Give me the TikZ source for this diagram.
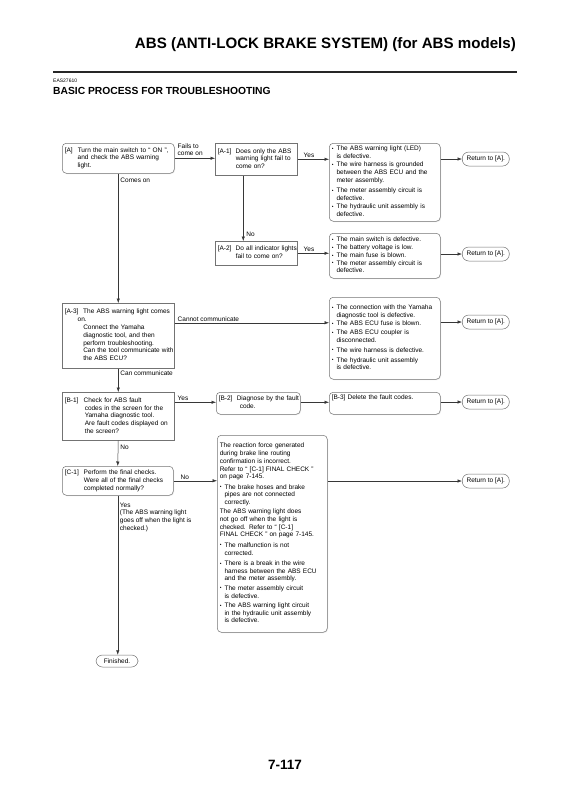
\documentclass[tikz,border=0pt]{standalone}
\usepackage{fontspec}
\setmainfont{Liberation Sans}
\usetikzlibrary{arrows.meta, positioning, shadows, calc}
\definecolor{framegray}{RGB}{115,115,115}
\definecolor{linegray}{RGB}{55,55,55}
\newcommand{\boxfont}{\fontsize{6.5}{7.8}\selectfont}
\newcommand{\boxlines}[1]{\begin{tabular}{@{}l@{}}#1\end{tabular}}
\newcommand{\lbl}[2][19pt]{\makebox[#1][l]{#2}}
\newcommand{\stepind}[1][19pt]{\hspace*{#1}}
\newcommand{\bul}{\makebox[4.8pt][l]{\raisebox{0.3pt}{\scalebox{0.75}{•}}}}
\newcommand{\hgap}{\hspace*{4.8pt}}

\begin{document}
\begin{tikzpicture}[x=1pt, y=-1pt,
    node distance=4pt,
    boxbase/.style={rectangle, draw=framegray, line width=0.5pt, fill=white, inner xsep=2.5pt, inner ysep=2pt, align=left, font=\boxfont, anchor=north west, drop shadow={shadow xshift=0.8pt, shadow yshift=-0.8pt, opacity=0.18}},
    stepbox/.style={boxbase},
    roundbox/.style={boxbase, rounded corners=4pt},
    pill/.style={rectangle, rounded corners=6.5pt, draw=framegray, line width=0.5pt, fill=white, minimum width=47pt, minimum height=14pt, inner sep=1pt, font=\boxfont, anchor=west},
    edgetag/.style={font=\boxfont, align=left, inner sep=1pt},
    link/.style={draw=linegray, line width=0.5pt},
    flowarrow/.style={link, -{Latex[length=4.5pt,width=3.4pt]}}
]
\useasboundingbox (0,0) rectangle (570,807);

% page header
\node[anchor=east, font=\fontsize{15.1}{18}\selectfont\bfseries, inner sep=0pt] (title) at (516,45) {ABS (ANTI-LOCK BRAKE SYSTEM) (for ABS models)};
\draw[line width=1.6pt, draw=black!85] (53,72) -- (517,72);
\node[anchor=west, font=\fontsize{5}{6}\selectfont, inner sep=0pt] (code) at (53,81) {EAS27610};
\node[anchor=west, font=\fontsize{10.3}{12}\selectfont\bfseries, inner sep=0pt] (heading) at (53,91) {BASIC PROCESS FOR TROUBLESHOOTING};

% steps
\node[roundbox, text width=107pt, minimum height=30pt] (a) at (62,143) {\boxlines{\lbl[13pt]{[A]}Turn the main switch to “ ON ”,\\ \stepind[13pt]and check the ABS warning\\ \stepind[13pt]light.}};
\node[stepbox, text width=77pt, minimum height=32pt] (a1) at (215,143) {\boxlines{\lbl[18pt]{[A-1]}Does only the ABS\\ \stepind[18pt]warning light fail to\\ \stepind[18pt]come on?}};
\node[stepbox, text width=77pt, minimum height=24pt] (a2) at (215,241) {\boxlines{\lbl[18pt]{[A-2]}Do all indicator lights\\ \stepind[18pt]fail to come on?}};
\node[stepbox, text width=107pt, minimum height=65pt] (a3) at (62,303) {\boxlines{\lbl[18.5pt]{[A-3]}The ABS warning light comes\\ \stepind[13pt]on.\\ \stepind[18.5pt]Connect the Yamaha\\ \stepind[18.5pt]diagnostic tool, and then\\ \stepind[18.5pt]perform troubleshooting.\\ \stepind[18.5pt]Can the tool communicate with\\ \stepind[18.5pt]the ABS ECU?}};
\node[stepbox, text width=107pt, minimum height=48pt] (b1) at (62,392) {\boxlines{\lbl[19pt]{[B-1]}Check for ABS fault\\ \stepind[20pt]codes in the screen for the\\ \stepind[20pt]Yamaha diagnostic tool.\\ \stepind[20pt]Are fault codes displayed on\\ \stepind[20pt]the screen?}};
\node[roundbox, text width=79pt, minimum height=22pt] (b2) at (216,392) {\boxlines{\lbl[18pt]{[B-2]}Diagnose by the fault\\ \stepind[21pt]code.}};
\node[roundbox, text width=106pt, text height=5pt, text depth=13pt] (b3) at (329,392) {[B-3] Delete the fault codes.};
\node[roundbox, text width=106pt, minimum height=29pt] (c1n) at (62,466) {\boxlines{\lbl[19pt]{[C-1]}Perform the final checks.\\ \stepind[19pt]Were all of the final checks\\ \stepind[19pt]completed normally?}};

% causes
\node[roundbox, text width=106pt, minimum height=78pt] (c1) at (329,143) {\boxlines{\bul The ABS warning light (LED)\\ \hgap is defective.\\[0.5pt]
  \bul The wire harness is grounded\\ \hgap between the ABS ECU and the\\ \hgap meter assembly.\\[2.5pt]
  \bul The meter assembly circuit is\\ \hgap defective.\\[0.5pt]
  \bul The hydraulic unit assembly is\\ \hgap defective.}};
\node[roundbox, text width=106pt, minimum height=45pt] (c2) at (329,233) {\boxlines{\bul The main switch is defective.\\
  \bul The battery voltage is low.\\
  \bul The main fuse is blown.\\
  \bul The meter assembly circuit is\\ \hgap defective.}};
\node[roundbox, text width=106pt, minimum height=82pt] (c3) at (329,297) {\boxlines{\bul The connection with the Yamaha\\ \hgap diagnostic tool is defective.\\[0.5pt]
  \bul The ABS ECU fuse is blown.\\[1pt]
  \bul The ABS ECU coupler is\\ \hgap disconnected.\\[2pt]
  \bul The wire harness is defective.\\[2pt]
  \bul The hydraulic unit assembly\\ \hgap is defective.}};
\node[roundbox, text width=105pt, minimum height=197pt] (big) at (217,435) {\boxlines{The reaction force generated\\
  during brake line routing\\
  confirmation is incorrect.\\
  Refer to “ [C-1] FINAL CHECK ”\\
  on page 7-145.\\[2.5pt]
  \bul The brake hoses and brake\\ \hgap pipes are not connected\\ \hgap correctly.\\[1pt]
  The ABS warning light does\\
  not go off when the light is\\
  checked. Refer to “ [C-1]\\
  FINAL CHECK ” on page 7-145.\\[2.5pt]
  \bul The malfunction is not\\ \hgap corrected.\\[2.5pt]
  \bul There is a break in the wire\\ \hgap harness between the ABS ECU\\ \hgap and the meter assembly.\\[1.5pt]
  \bul The meter assembly circuit\\ \hgap is defective.\\[1.5pt]
  \bul The ABS warning light circuit\\ \hgap in the hydraulic unit assembly\\ \hgap is defective.}};

% ends
\node[pill] (r1) at (462,159) {Return to [A].};
\node[pill] (r2) at (462,254) {Return to [A].};
\node[pill] (r3) at (462,322) {Return to [A].};
\node[pill] (r4) at (462,402) {Return to [A].};
\node[pill] (r5) at (462,481) {Return to [A].};
\node[pill, anchor=center, minimum width=42pt, minimum height=12pt] (fin) at (117,661) {Finished.};

% connectors
\coordinate (a1down) at ([xshift=-13pt]a1.south);
\coordinate (a3out) at ([yshift=13pt]a3.east);
\coordinate (b1out) at ([yshift=14pt]b1.east);
\draw[flowarrow] (a.east) -- (a.east -| a1.west);
\draw[flowarrow] (a1.east) -- (a1.east -| c1.west);
\draw[flowarrow] (c1.east |- r1.west) -- (r1.west);
\draw[flowarrow] (a1down) -- (a1down |- a2.north);
\draw[flowarrow] (a2.east) -- (a2.east -| c2.west);
\draw[flowarrow] (c2.east |- r2.west) -- (r2.west);
\draw[flowarrow] (a.south) -- (a3.north);
\draw[flowarrow] (a3out) -- (a3out -| c3.west);
\draw[flowarrow] (c3.east |- r3.west) -- (r3.west);
\draw[flowarrow] (a3.south) -- (b1.north);
\draw[flowarrow] (b1out) -- (b1out -| b2.west);
\draw[flowarrow] (b1out -| b2.east) -- (b1out -| b3.west);
\draw[flowarrow] (b3.east |- r4.west) -- (r4.west);
\draw[flowarrow] (b1.south) -- (c1n.north);
\draw[flowarrow] (c1n.east) -- (c1n.east -| big.west);
\draw[flowarrow] (big.east |- r5.west) -- (r5.west);
\draw[flowarrow] (c1n.south) -- (c1n.south |- fin.north);

% connector labels
\node[edgetag, above right=1pt and 2pt of a.east] (failslbl) {Fails to\\come on};
\node[edgetag, above right=0pt and 5pt of a1.east] (yes1) {Yes};
\node[edgetag, below right=3pt and 1pt of a.south] (comeslbl) {Comes on};
\node[edgetag, above right=3pt and 2pt of a1down |- a2.north] (no1) {No};
\node[edgetag, above right=0pt and 5pt of a2.east] (yes2) {Yes};
\node[edgetag, above right=0pt and 2pt of a3out] (cannotlbl) {Cannot communicate};
\node[edgetag, below right=1pt and 1pt of a3.south] (canlbl) {Can communicate};
\node[edgetag, above right=0pt and 2pt of b1out] (yes3) {Yes};
\node[edgetag, below right=3pt and 1pt of b1.south] (no2) {No};
\node[edgetag, above right=0pt and 6pt of c1n.east] (no3) {No};
\node[edgetag, below right=6pt and 1pt of c1n.south] (yesnote) {Yes\\(The ABS warning light\\goes off when the light is\\checked.)};

% page number
\node[font=\fontsize{13.5}{15}\selectfont\bfseries, inner sep=0pt] (pageno) at (285,765) {7-117};
\end{tikzpicture}
\end{document}
